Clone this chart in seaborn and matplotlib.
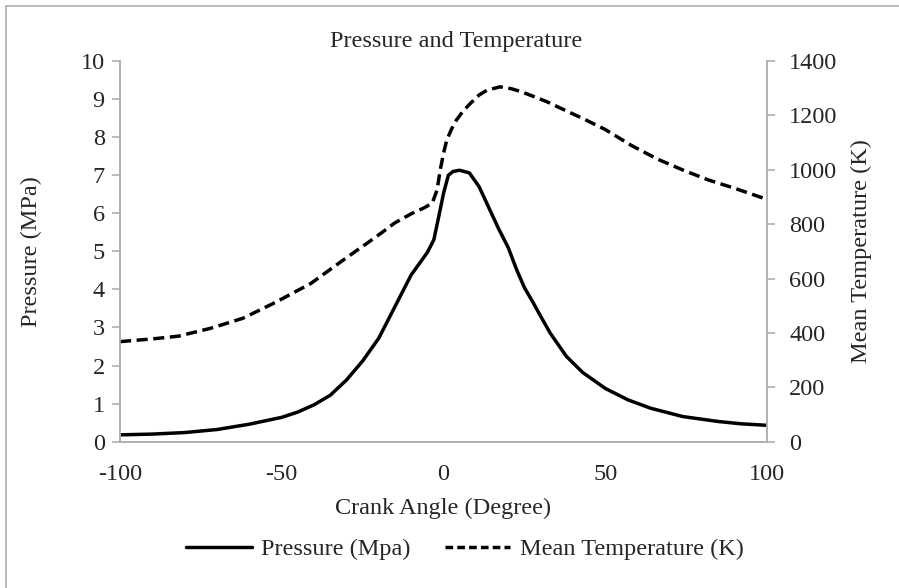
import numpy as np
import pandas as pd
import matplotlib
matplotlib.use("Agg")
import matplotlib.pyplot as plt
from matplotlib.lines import Line2D
import seaborn as sns

# values
angle_p = [-100, -90, -80, -70, -60, -50, -45, -40, -35, -30, -25, -20, -15, -10,
           -5, -3, -1.5, 0, 1.5, 3, 5, 8, 11, 14, 17, 20, 22.7, 25, 27.8, 30,
           33, 38, 43, 50, 57, 64, 74, 85, 92, 100]
pressure = [0.18, 0.20, 0.24, 0.32, 0.46, 0.64, 0.78, 0.97, 1.22, 1.62, 2.12,
            2.72, 3.55, 4.38, 4.97, 5.3, 5.9, 6.52, 7.0, 7.1, 7.13, 7.06, 6.7,
            6.15, 5.6, 5.1, 4.5, 4.05, 3.64, 3.3, 2.85, 2.24, 1.82, 1.40, 1.1,
            0.88, 0.66, 0.53, 0.47, 0.43]

angle_t = [-100, -90, -82, -72, -62, -52, -41, -31, -21, -15, -10, -6, -3.5, -2,
           -1, 0, 1, 2.5, 4, 6, 8.3, 11, 13.5, 17.5, 21, 24, 28, 32, 37, 43, 50,
           58, 66, 74, 82, 90, 100]
temperature = [368, 378, 388, 417, 454, 512, 582, 668, 752, 805, 838, 860, 877,
               925, 1000, 1060, 1109, 1150, 1183, 1215, 1244, 1275, 1293, 1305,
               1298, 1287, 1269, 1250, 1222, 1189, 1148, 1090, 1040, 999, 962,
               932, 891]

df_p = pd.DataFrame({"angle": angle_p, "pressure": pressure})
df_t = pd.DataFrame({"angle": angle_t, "temperature": temperature})

sns.set_style("white")
plt.rcParams["font.family"] = ["Liberation Serif", "DejaVu Serif"]
plt.rcParams["axes.unicode_minus"] = False
fs = 17.5

fig = plt.figure(figsize=(8.99, 5.88), dpi=100)
ax = fig.add_axes([120 / 899, 1 - 441.7 / 588, (767 - 120) / 899, (441.7 - 61) / 588])
ax2 = ax.twinx()

sns.lineplot(data=df_p, x="angle", y="pressure", ax=ax, color="black", lw=2.5,
             sort=False, legend=False)
sns.lineplot(data=df_t, x="angle", y="temperature", ax=ax2, color="black", lw=2.5,
             sort=False, legend=False)
ax2.lines[0].set_dashes([3.2, 1.6])

ax.set_xlim(-100, 100)
ax.set_ylim(0, 10)
ax2.set_ylim(0, 1400)
ax.set_xticks(np.arange(-100, 101, 50))
ax.set_yticks(np.arange(0, 11, 1))
ax2.set_yticks(np.arange(0, 1401, 200))

grey = "#b0b0b0"
for a in (ax, ax2):
    for s in a.spines.values():
        s.set_color(grey)
        s.set_linewidth(1.2)
    a.spines["top"].set_visible(False)
    a.tick_params(length=6, color=grey, width=1.2, labelsize=fs, direction="out")
ax.tick_params(axis="x", pad=10)
ax.tick_params(axis="y", pad=5)
ax2.tick_params(axis="y", pad=10)

ax.set_xlabel("Crank Angle (Degree)", fontsize=fs, labelpad=9)
ax.set_ylabel("Pressure (MPa)", fontsize=fs)
ax2.set_ylabel("Mean Temperature (K)", fontsize=fs)
ax.yaxis.set_label_coords((31 - 120) / 647, 0.5)
ax.yaxis.label.set_va("center")
ax2.yaxis.set_label_coords((861 - 120) / 647, 0.5)
ax2.yaxis.label.set_va("center")

fig.text(456 / 899, 1 - 42 / 588, "Pressure and Temperature",
         ha="center", va="center", fontsize=fs)

handles = [Line2D([], [], color="black", lw=2.5),
           Line2D([], [], color="black", lw=2.5, dashes=[2.2, 1.2])]
fig.legend(handles, ["Pressure (Mpa)", "Mean Temperature (K)"], loc="center",
           bbox_to_anchor=(465 / 899, 1 - 549 / 588), ncol=2,
           frameon=False, fontsize=fs, handlelength=2.7, handletextpad=0.4,
           columnspacing=1.4)

# figure border (only top and left visible in the reference)
fig.add_artist(Line2D([6 / 899, 6 / 899], [0, 1 - 6 / 588], color=grey, lw=1.2,
                      transform=fig.transFigure))
fig.add_artist(Line2D([6 / 899, 1], [1 - 6 / 588, 1 - 6 / 588], color=grey, lw=1.2,
                      transform=fig.transFigure))

fig.savefig("out.png", dpi=100)
